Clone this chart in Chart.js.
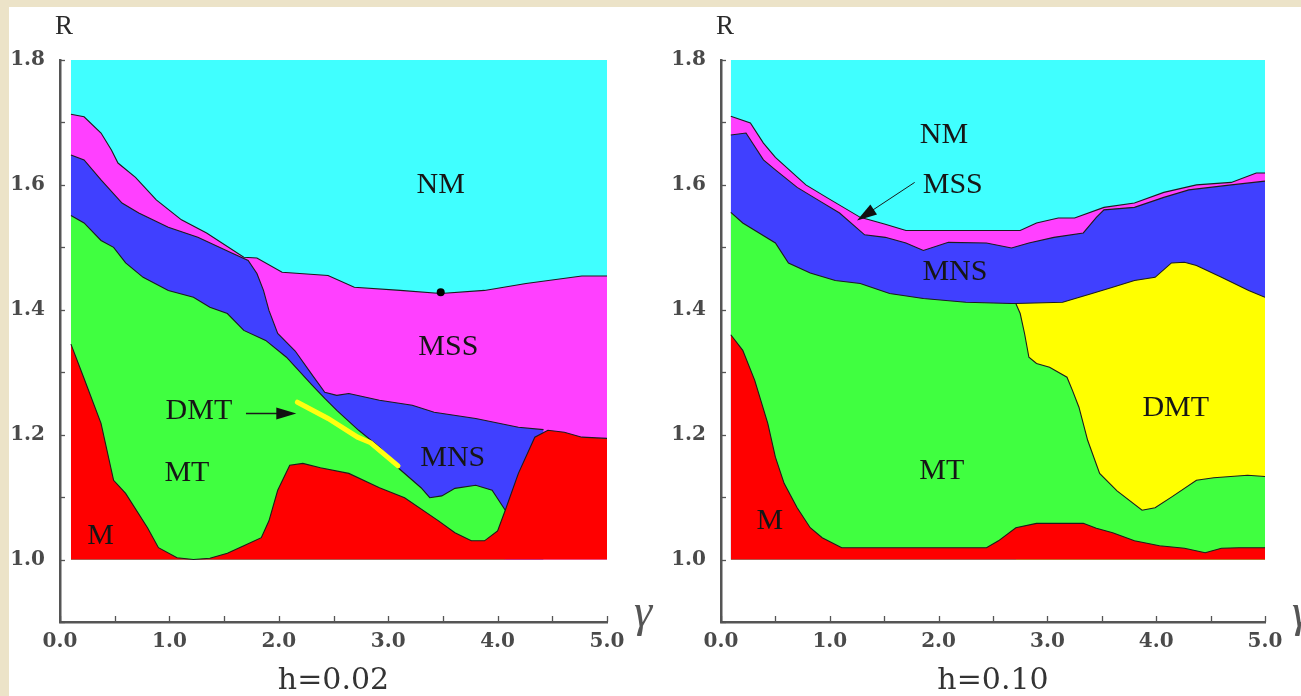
<!doctype html>
<html>
  <head>
    <meta charset="utf-8" />
    <script src="https://cdn.jsdelivr.net/npm/chart.js"></script>
    <style>
      html, body { margin: 0; padding: 0; background: #ece3c8; }
      body { width: 1301px; height: 696px; position: relative; overflow: hidden; }
      #sheet { position: absolute; left: 9px; top: 7px; right: 0; bottom: 0; background: #fff; }
      .box { position: absolute; top: 0; height: 696px; }
      #leftBox { left: 0; width: 660px; }
      #rightBox { left: 660px; width: 641px; }
    </style>
  </head>
  <body>
    <div id="sheet"></div>
    <div class="box" id="leftBox"><canvas id="leftChart" width="660" height="696"></canvas></div>
    <div class="box" id="rightBox"><canvas id="rightChart" width="641" height="696"></canvas></div>
    <script>
      // boundary curves [gamma, R], each is the top edge of a phase
      // h = 0.02
      const leftM = [[0.1,1.345],[0.22,1.29],[0.375,1.218],[0.49,1.127],[0.6,1.106],[0.8,1.051],[0.9,1.019],[1.07,1.003],[1.22,1.0],[1.37,1.002],[1.53,1.01],[1.68,1.022],[1.84,1.035],[1.91,1.062],[1.99,1.111],[2.1,1.151],[2.22,1.154],[2.38,1.147],[2.64,1.138],[2.92,1.115],[3.15,1.099],[3.46,1.062],[3.61,1.043],[3.76,1.03],[3.88,1.03],[4.0,1.046],[4.07,1.079],[4.19,1.138],[4.34,1.196],[4.46,1.207],[4.61,1.204],[4.77,1.196],[5.0,1.194]];
      const leftMT = [[0.1,1.551],[0.22,1.539],[0.375,1.511],[0.49,1.5],[0.6,1.475],[0.76,1.452],[0.99,1.431],[1.22,1.42],[1.37,1.404],[1.53,1.394],[1.68,1.367],[1.88,1.351],[2.07,1.324],[2.3,1.28],[2.42,1.258],[2.53,1.239],[2.73,1.207],[2.92,1.18],[3.09,1.147],[3.3,1.115],[3.38,1.099],[3.49,1.102],[3.61,1.114],[3.8,1.119],[3.95,1.111],[4.07,1.079]];
      const leftMNS = [[0.1,1.648],[0.22,1.64],[0.375,1.608],[0.567,1.571],[0.72,1.555],[0.99,1.532],[1.26,1.516],[1.57,1.491],[1.72,1.479],[1.8,1.458],[1.86,1.431],[1.91,1.399],[1.99,1.362],[2.15,1.334],[2.3,1.297],[2.42,1.268],[2.53,1.263],[2.64,1.266],[2.92,1.255],[3.22,1.247],[3.42,1.236],[3.8,1.226],[4.19,1.212],[4.42,1.208]];
      const leftMSS = [[0.1,1.713],[0.22,1.709],[0.375,1.683],[0.47,1.656],[0.53,1.635],[0.69,1.612],[0.88,1.576],[1.11,1.544],[1.34,1.523],[1.68,1.484],[1.8,1.483],[2.03,1.46],[2.45,1.455],[2.69,1.436],[3.11,1.431],[3.48,1.426],[3.88,1.431],[4.26,1.442],[4.77,1.454],[5.0,1.454]];
      const leftNM = [[0.1,1.8],[5.0,1.8]];
      const leftDMT = [[2.17,1.252],[2.45,1.226],[2.72,1.196],[2.84,1.187],[3.09,1.15]];
      const leftDot = [[3.48,1.428]];

      // h = 0.10
      const rightM = [[0.09,1.36],[0.2,1.335],[0.31,1.287],[0.43,1.218],[0.5,1.164],[0.58,1.122],[0.7,1.083],[0.82,1.051],[0.93,1.035],[1.11,1.019],[2.44,1.019],[2.55,1.03],[2.71,1.051],[2.9,1.058],[3.33,1.058],[3.45,1.05],[3.6,1.043],[3.8,1.03],[4.03,1.022],[4.26,1.018],[4.45,1.011],[4.6,1.018],[4.76,1.019],[5.0,1.019]];
      const rightMT = [[0.09,1.556],[0.2,1.539],[0.35,1.523],[0.5,1.507],[0.62,1.475],[0.82,1.459],[1.05,1.447],[1.28,1.442],[1.55,1.426],[1.86,1.418],[2.25,1.412],[2.67,1.41],[2.71,1.41],[2.75,1.394],[2.79,1.362],[2.83,1.324],[2.9,1.314],[3.02,1.308],[3.18,1.292],[3.23,1.271],[3.29,1.244],[3.37,1.191],[3.48,1.138],[3.64,1.11],[3.87,1.079],[3.99,1.083],[4.14,1.1],[4.37,1.127],[4.53,1.131],[4.84,1.135],[5.0,1.133]];
      const rightDMT = [[2.71,1.41],[3.14,1.412],[3.41,1.426],[3.6,1.436],[3.8,1.447],[3.99,1.452],[4.14,1.475],[4.26,1.476],[4.37,1.471],[4.6,1.452],[4.85,1.431],[5.0,1.42]];
      const rightMNS = [[0.09,1.68],[0.23,1.683],[0.39,1.64],[0.5,1.624],[0.7,1.596],[0.89,1.576],[1.09,1.555],[1.32,1.52],[1.51,1.516],[1.7,1.507],[1.86,1.495],[2.09,1.508],[2.44,1.507],[2.67,1.499],[2.83,1.507],[3.06,1.516],[3.33,1.523],[3.45,1.548],[3.52,1.56],[3.8,1.564],[4.07,1.58],[4.3,1.592],[4.69,1.6],[5.0,1.606]];
      const rightMSS = [[0.09,1.71],[0.27,1.699],[0.39,1.667],[0.5,1.644],[0.78,1.6],[0.97,1.58],[1.28,1.548],[1.51,1.537],[1.7,1.527],[2.05,1.527],[2.75,1.527],[2.9,1.539],[3.1,1.547],[3.25,1.547],[3.52,1.564],[3.8,1.571],[4.07,1.588],[4.37,1.6],[4.69,1.604],[4.92,1.619],[5.0,1.619]];
      const rightNM = [[0.09,1.8],[5.0,1.8]];

      const phaseColors = { M: "#ff0000", MT: "#40ff40", DMT: "#ffff00", MNS: "#4040ff", MSS: "#ff40ff", NM: "#40ffff" };

      const pts = (arr) => arr.map((p) => ({ x: p[0], y: p[1] }));

      function phase(name, arr) {
        return {
          data: pts(arr),
          fill: { value: 1.0 },
          backgroundColor: phaseColors[name],
          borderColor: name === "NM" ? "rgba(0,0,0,0)" : "#1c1c1c",
          borderWidth: name === "NM" ? 0 : 1.1,
          pointRadius: 0,
          tension: 0,
        };
      }

      function arrow(ctx, x1, y1, x2, y2, len, half) {
        const a = Math.atan2(y2 - y1, x2 - x1);
        ctx.beginPath();
        ctx.moveTo(x1, y1);
        ctx.lineTo(x2 - len * 0.6 * Math.cos(a), y2 - len * 0.6 * Math.sin(a));
        ctx.stroke();
        ctx.beginPath();
        ctx.moveTo(x2, y2);
        ctx.lineTo(x2 - len * Math.cos(a) + half * Math.sin(a), y2 - len * Math.sin(a) - half * Math.cos(a));
        ctx.lineTo(x2 - len * Math.cos(a) - half * Math.sin(a), y2 - len * Math.sin(a) + half * Math.cos(a));
        ctx.closePath();
        ctx.fill();
      }

      // inward ticks, phase names, arrows, axis names
      function decor(labels, arrows) {
        return {
          id: "decor",
          afterDraw(chart) {
            const ctx = chart.ctx;
            const xs = chart.scales.x;
            const ys = chart.scales.y;
            ctx.save();
            ctx.strokeStyle = "#555";
            ctx.lineWidth = 1.3;
            ys.ticks.forEach((t) => {
              const py = Math.round(ys.getPixelForValue(t.value)) + 0.5;
              ctx.beginPath();
              ctx.moveTo(ys.right, py);
              ctx.lineTo(ys.right + 5, py);
              ctx.stroke();
            });
            xs.ticks.forEach((t) => {
              const px = Math.round(xs.getPixelForValue(t.value)) + 0.5;
              ctx.beginPath();
              ctx.moveTo(px, xs.top);
              ctx.lineTo(px, xs.top - 6);
              ctx.stroke();
            });

            ctx.fillStyle = "#161616";
            ctx.font = "30px 'Liberation Serif'";
            ctx.textAlign = "center";
            ctx.textBaseline = "middle";
            labels.forEach((l) => {
              ctx.fillText(l[0], xs.getPixelForValue(l[1]), ys.getPixelForValue(l[2]));
            });

            ctx.strokeStyle = "#1a1a1a";
            ctx.fillStyle = "#111";
            arrows.forEach((a) => {
              ctx.lineWidth = a[4];
              arrow(ctx, xs.getPixelForValue(a[0]), ys.getPixelForValue(a[1]),
                xs.getPixelForValue(a[2]), ys.getPixelForValue(a[3]), 20, 6);
            });

            ctx.fillStyle = "#2a2a2a";
            ctx.font = "27px 'Liberation Serif'";
            ctx.fillText("R", ys.right + 4, chart.chartArea.top - 33);
            ctx.font = "italic 46px 'Liberation Serif'";
            ctx.fillStyle = "#555";
            ctx.fillText("\u03b3", xs.right + 36, xs.top - 8);
            ctx.restore();
          },
        };
      }

      function makeChart(id, datasets, title, yWidth, padRight, labels, arrows) {
        return new Chart(document.getElementById(id), {
          type: "line",
          data: { datasets: datasets },
          options: {
            responsive: false,
            animation: false,
            layout: { padding: { left: 0, top: 60, right: padRight, bottom: 0 } },
            plugins: {
              legend: { display: false },
              tooltip: { enabled: false },
              filler: { propagate: false, drawTime: "beforeDatasetsDraw" },
              title: {
                display: true,
                text: title,
                position: "bottom",
                fullSize: false,
                color: "#333",
                font: { family: "'DejaVu Serif'", size: 30, weight: "normal", lineHeight: 1 },
                padding: { top: 2, bottom: 0 },
              },
            },
            scales: {
              x: {
                type: "linear",
                min: 0,
                max: 5,
                grid: { display: false, drawTicks: false },
                border: { display: true, color: "#555", width: 2.5 },
                ticks: {
                  stepSize: 0.5,
                  autoSkip: false,
                  maxRotation: 0,
                  padding: 8,
                  color: "#4a4a4a",
                  font: { family: "'DejaVu Serif'", size: 20, weight: "bold" },
                  callback: (v) => (Math.abs(v - Math.round(v)) < 1e-6 ? Number(v).toFixed(1) : ""),
                },
                afterFit: (s) => { s.height = 42; },
              },
              y: {
                min: 0.9,
                max: 1.8,
                grid: { display: false, drawTicks: false },
                border: { display: true, color: "#555", width: 2.5 },
                ticks: {
                  stepSize: 0.1,
                  autoSkip: false,
                  padding: 15,
                  color: "#4a4a4a",
                  font: { family: "'DejaVu Serif'", size: 20, weight: "bold" },
                  callback: (v) => {
                    const k = Math.round(v * 10);
                    return k >= 10 && k % 2 === 0 ? (k / 10).toFixed(1) : "";
                  },
                },
                afterFit: (s) => { s.width = yWidth; },
              },
            },
          },
          plugins: [decor(labels, arrows)],
        });
      }

      makeChart(
        "leftChart",
        [
          { data: pts(leftDot), showLine: false, pointRadius: 4, pointBackgroundColor: "#000", pointBorderWidth: 0, fill: false },
          { data: pts(leftDMT), fill: false, borderColor: "#ffff10", borderWidth: 5, borderCapStyle: "round", pointRadius: 0, tension: 0 },
          phase("M", leftM),
          phase("MT", leftMT),
          phase("MNS", leftMNS),
          phase("MSS", leftMSS),
          phase("NM", leftNM),
        ],
        "h=0.02", 60, 53,
        [["NM", 3.48, 1.6], ["MSS", 3.55, 1.34], ["DMT", 1.27, 1.237], ["MT", 1.16, 1.139], ["MNS", 3.59, 1.162], ["M", 0.37, 1.038]],
        [[1.7, 1.234, 2.16, 1.234, 1.5]]
      );

      makeChart(
        "rightChart",
        [
          phase("M", rightM),
          phase("MT", rightMT),
          phase("DMT", rightDMT),
          phase("MNS", rightMNS),
          phase("MSS", rightMSS),
          phase("NM", rightNM),
        ],
        "h=0.10", 61, 36,
        [["NM", 2.05, 1.68], ["MSS", 2.13, 1.6], ["MNS", 2.15, 1.46], ["DMT", 4.18, 1.242], ["MT", 2.03, 1.141], ["M", 0.45, 1.062]],
        [[1.78, 1.604, 1.25, 1.543, 1]]
      );
    </script>
  </body>
</html>
